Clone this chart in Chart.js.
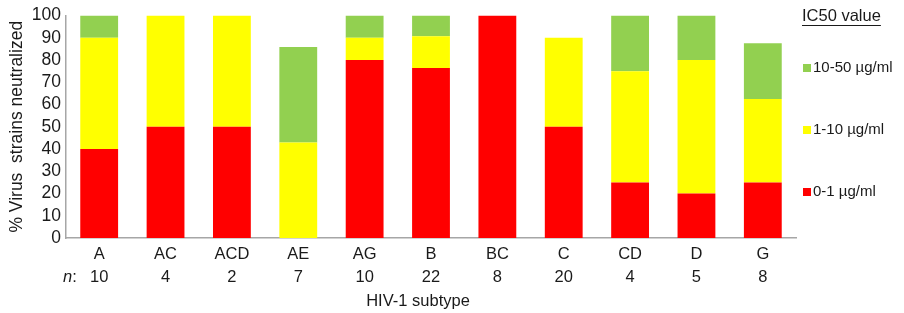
<!DOCTYPE html>
<html>
<head>
<meta charset="utf-8">
<script src="https://cdn.jsdelivr.net/npm/chart.js@4.4.0/dist/chart.umd.min.js"></script>
<style>
  html, body { margin: 0; padding: 0; background: #fff; }
  #wrap { width: 904px; height: 313px; }
</style>
</head>
<body>
<div id="wrap"><canvas id="chart" width="904" height="313"></canvas></div>
<script>
var subtypes = ['A', 'AC', 'ACD', 'AE', 'AG', 'B', 'BC', 'C', 'CD', 'D', 'G'];
var counts = ['10', '4', '2', '7', '10', '22', '8', '20', '4', '5', '8'];
var low = [40, 50, 50, 0, 80, 76.4, 100, 50, 25, 20, 25];      // 0-1 ug/ml
var mid = [50, 50, 50, 42.9, 10, 14.3, 0, 40, 50, 60, 37.5];   // 1-10 ug/ml
var high = [10, 0, 0, 42.9, 10, 9.3, 0, 0, 25, 20, 25];        // 10-50 ug/ml
var yTicks = [0, 10, 20, 30, 40, 50, 60, 70, 80, 90, 100];

var seriesNames = ['0-1 µg/ml', '1-10 µg/ml', '10-50 µg/ml'];
var colors = ['#ff0000', '#ffff00', '#92d050'];
var font = 'Liberation Sans, Arial, sans-serif';
var textColor = '#1a1a1a';

document.addEventListener('DOMContentLoaded', function() {
  var labels = subtypes.map(function(s, i) { return [s, counts[i]]; });

  // draws the "n:" prefix, the x title and the IC50 legend on the right
  var extras = {
    id: 'extras',
    afterDraw: function(chart) {
      var ctx = chart.ctx;
      ctx.save();
      ctx.fillStyle = textColor;
      ctx.textBaseline = 'middle';

      ctx.font = 'italic 16.5px ' + font;
      ctx.textAlign = 'left';
      ctx.fillText('n', 63, 277);
      var nw = ctx.measureText('n').width;
      ctx.font = '16.5px ' + font;
      ctx.fillText(':', 63 + nw, 277);

      ctx.textAlign = 'center';
      ctx.fillText('HIV-1 subtype', 418, 301);
      ctx.textAlign = 'left';

      ctx.fillText('IC50 value', 802, 16);
      var tw = ctx.measureText('IC50 value').width;
      ctx.strokeStyle = textColor;
      ctx.lineWidth = 1;
      ctx.beginPath();
      ctx.moveTo(802, 25.5);
      ctx.lineTo(802 + tw, 25.5);
      ctx.stroke();

      ctx.font = '15px ' + font;
      var ys = [192, 130, 68];
      for (var i = 2; i >= 0; i--) {
        ctx.fillStyle = colors[i];
        ctx.fillRect(803, ys[i] - 4, 8, 8);
        ctx.fillStyle = textColor;
        ctx.fillText(seriesNames[i], 813, ys[i]);
      }
      ctx.restore();
    }
  };

  var ctx = document.getElementById('chart').getContext('2d');
  var myChart = new Chart(ctx, {
    type: 'bar',
    data: {
      labels: labels,
      datasets: [
        { label: seriesNames[0], data: low, backgroundColor: colors[0] },
        { label: seriesNames[1], data: mid, backgroundColor: colors[1] },
        { label: seriesNames[2], data: high, backgroundColor: colors[2] }
      ]
    },
    options: {
      responsive: false,
      animation: false,
      layout: { padding: { top: 12, right: 108, bottom: 0, left: 7 } },
      datasets: { bar: { barPercentage: 0.57, categoryPercentage: 1 } },
      plugins: {
        legend: { display: false },
        tooltip: { enabled: false }
      },
      scales: {
        x: {
          stacked: true,
          grid: { display: false, drawTicks: false },
          border: { color: '#a6a6a6', width: 1.5 },
          ticks: {
            color: textColor,
            font: { family: font, size: 16.5, lineHeight: 1.45 },
            padding: 4,
            maxRotation: 0
          },
          afterFit: function(scale) { scale.height = 75; }
        },
        y: {
          stacked: true,
          min: 0,
          max: 100,
          afterBuildTicks: function(scale) {
            scale.ticks = yTicks.map(function(v) { return { value: v }; });
          },
          grid: { display: false, drawTicks: false },
          border: { color: '#a6a6a6', width: 1.5 },
          ticks: {
            color: textColor,
            font: { family: font, size: 17.5 },
            padding: 5,
            autoSkip: false
          },
          title: {
            display: true,
            text: '% Virus  strains neutralized',
            color: textColor,
            font: { family: font, size: 17.5 },
            padding: { top: 0, bottom: 0 }
          },
          afterFit: function(scale) { scale.width = 59; }
        }
      }
    },
    plugins: [extras]
  });
});
</script>
</body>
</html>
